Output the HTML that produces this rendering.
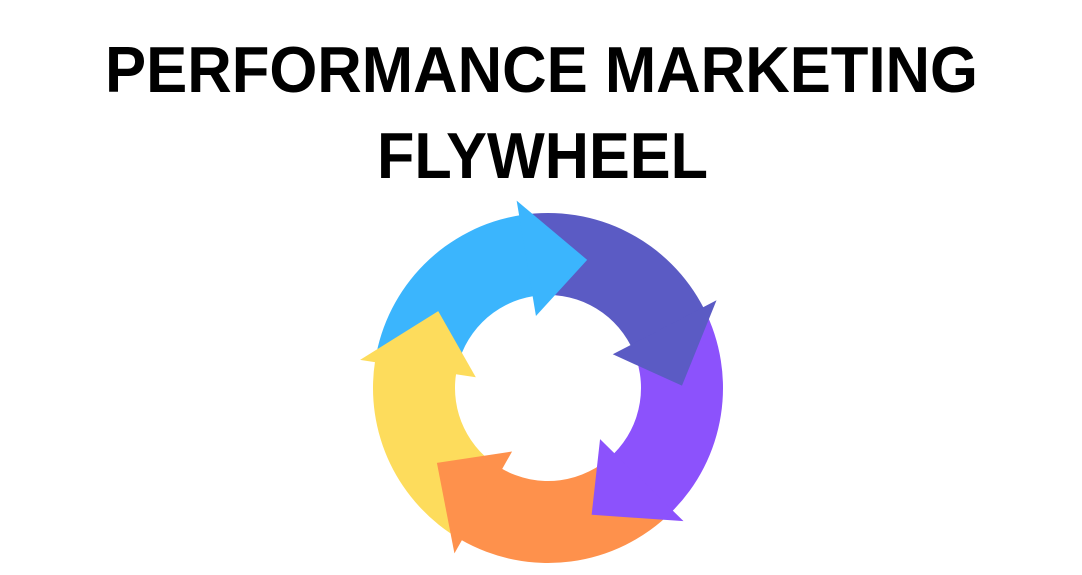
<!DOCTYPE html>
<html><head><meta charset="utf-8"><style>
html,body{margin:0;padding:0;background:#fff;}
svg{display:block}
</style></head><body>
<svg id="s" width="1082" height="575" viewBox="0 0 1082 575" xmlns="http://www.w3.org/2000/svg">
<rect width="1082" height="575" fill="#fff"/>
<text x="105" y="92" font-family="Liberation Sans, sans-serif" font-weight="bold" font-size="65" textLength="873" lengthAdjust="spacingAndGlyphs" fill="#000">PERFORMANCE MARKETING</text>
<text x="377" y="178" font-family="Liberation Sans, sans-serif" font-weight="bold" font-size="65" textLength="331" lengthAdjust="spacingAndGlyphs" fill="#000">FLYWHEEL</text>
<g id="w"></g>
</svg>
<script>
(function(){
var cx=548,cy=388,ri=93,ro=175,rhi=73,rho=190,rt=134;
var cols=["#3BB5FD","#5B5BC4","#8C52FC","#FE914C","#FDDC5C"];
var tips=[17,89,161,236,305];
function pt(a,r){var t=a*Math.PI/180;return [(cx+r*Math.sin(t)).toFixed(2),(cy-r*Math.cos(t)).toFixed(2)];}
var g=document.getElementById('w'),bodies="",heads="";
for(var i=0;i<5;i++){
 var base=tips[i]-26, prevBase=tips[(i+4)%5]-26;
 var a0=prevBase, a1=base; if(a1<a0)a1+=360;
 var p1=pt(a0,ro),p2=pt(a1,ro),p3=pt(a1,ri),p4=pt(a0,ri);
 var large=(a1-a0)>180?1:0;
 var d="M"+p1+" A"+ro+" "+ro+" 0 "+large+" 1 "+p2+" L"+p3+" A"+ri+" "+ri+" 0 "+large+" 0 "+p4+" Z";
 bodies+='<path d="'+d+'" fill="'+cols[i]+'"/>';
 var h1=pt(base-0.5,rho),h2=pt(tips[i],rt),h3=pt(base-0.5,rhi);
 heads+='<path d="M'+h1+' L'+h2+' L'+h3+' Z" fill="'+cols[i]+'"/>';
}
g.innerHTML=bodies+heads;
})();
</script>
</body></html>
